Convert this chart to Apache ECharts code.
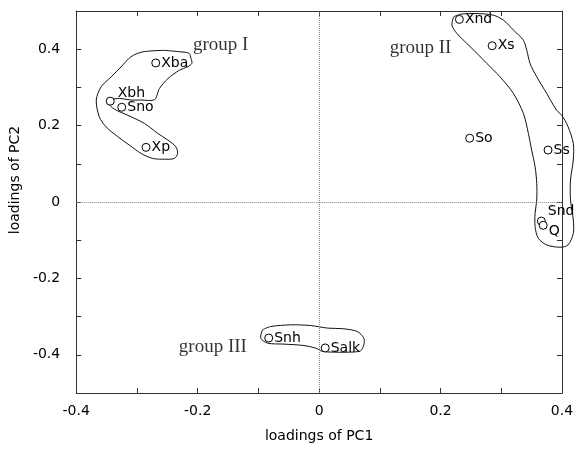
<!DOCTYPE html>
<html>
<head>
<meta charset="utf-8">
<script src="https://cdn.jsdelivr.net/npm/echarts@6/dist/echarts.min.js"></script>
<style>
html,body{margin:0;padding:0;background:#fff;}
#chart{width:581px;height:451px;}
</style>
</head>
<body>
<div id="chart"></div>
<script>
// ---- data ----
const pointNames = ['Xba','Xbh','Sno','Xp','Xnd','Xs','So','Ss','Snd','Q','Snh','Salk'];
const pc1 = [-0.269,-0.344,-0.325,-0.285,0.231,0.285,0.248,0.377,0.366,0.369,-0.083,0.010];
const pc2 = [0.364,0.264,0.248,0.143,0.478,0.409,0.167,0.136,-0.050,-0.061,-0.356,-0.382];

const groupNames = ['group I','group II','group III'];
const groupX = [-0.162, 0.167, -0.175];
const groupY = [0.410, 0.403, -0.379];

const xTicks = [-0.4,-0.3,-0.2,-0.1,0,0.1,0.2,0.3,0.4];
const yTicks = [-0.5,-0.4,-0.3,-0.2,-0.1,0,0.1,0.2,0.3,0.4,0.5];

// hand-drawn outlines (data coordinates)
const outline1 = [[-0.255,0.397],[-0.2275,0.393],[-0.214,0.389],[-0.211,0.376],[-0.2095,0.363],[-0.2165,0.354],[-0.230,0.345],[-0.249,0.323],[-0.263,0.297],[-0.271,0.268],[-0.293,0.267],[-0.310,0.267],[-0.329,0.271],[-0.3425,0.267],[-0.345,0.254],[-0.334,0.2405],[-0.315,0.227],[-0.288,0.206],[-0.266,0.180],[-0.249,0.162],[-0.236,0.1446],[-0.233,0.127],[-0.2385,0.114],[-0.255,0.112],[-0.274,0.114],[-0.293,0.127],[-0.3125,0.149],[-0.3315,0.171],[-0.351,0.197],[-0.362,0.223],[-0.367,0.267],[-0.359,0.3015],[-0.3425,0.3276],[-0.326,0.354],[-0.310,0.380],[-0.2905,0.393],[-0.255,0.397]];
const outline2 = [[0.2214,0.4845],[0.2324,0.4915],[0.260,0.4933],[0.287,0.489],[0.3036,0.476],[0.320,0.450],[0.3364,0.4235],[0.342,0.397],[0.3474,0.3626],[0.3584,0.3276],[0.3749,0.284],[0.391,0.2405],[0.3995,0.2275],[0.410,0.197],[0.4186,0.1535],[0.4186,0.110],[0.414,0.0575],[0.414,0.005],[0.4186,-0.047],[0.4186,-0.082],[0.410,-0.1124],[0.3967,-0.1184],[0.3749,-0.1124],[0.361,-0.095],[0.3557,-0.0646],[0.3557,-0.0295],[0.3584,0.005],[0.3584,0.049],[0.3557,0.0923],[0.350,0.136],[0.3446,0.1796],[0.3364,0.232],[0.320,0.284],[0.298,0.3276],[0.2763,0.3626],[0.260,0.389],[0.2434,0.415],[0.227,0.441],[0.2188,0.463],[0.2214,0.4845]];
const outline3 = [[-0.0933,-0.3346],[-0.0797,-0.326],[-0.0468,-0.3216],[-0.014,-0.3234],[0.0135,-0.330],[0.0407,-0.332],[0.0628,-0.339],[0.0736,-0.3563],[0.0736,-0.374],[0.0682,-0.3895],[0.0517,-0.393],[0.0243,-0.393],[0.0053,-0.391],[-0.0057,-0.3825],[-0.025,-0.3757],[-0.0578,-0.372],[-0.085,-0.3694],[-0.0961,-0.3563],[-0.0933,-0.3346]];

// ---- chart ----
const SANS = 'DejaVu Sans';
const SERIF = 'Liberation Serif';
const chart = echarts.init(document.getElementById('chart'), null, {renderer:'canvas'});

const labelOffsets = {Xbh:[2,-8], Snd:[1,-10], Q:[0,6]};
const pts = pointNames.map((n,i)=>({
  name:n, value:[pc1[i],pc2[i]],
  label: labelOffsets[n] ? {offset: labelOffsets[n]} : undefined
}));

function fmt(v){
  const k = Math.round(v*10);
  if (k % 2 !== 0) return '';
  if (k === 0) return '0';
  return (k/10).toFixed(1);
}

const axisLineStyle = {color:'#333', width:1};
const baseX = {type:'value', min:xTicks[0], max:xTicks[xTicks.length-1], interval:0.1,
  axisLine:{show:true, onZero:false, lineStyle:axisLineStyle},
  axisTick:{show:true, inside:true, length:5, lineStyle:axisLineStyle},
  splitLine:{show:false}};
const baseY = {type:'value', min:yTicks[0], max:yTicks[yTicks.length-1], interval:0.1,
  axisLine:{show:true, onZero:false, lineStyle:axisLineStyle},
  axisTick:{show:true, inside:true, length:5, lineStyle:axisLineStyle},
  splitLine:{show:false}};

chart.setOption({
  animation:false,
  grid:{left:75, right:19, top:11, bottom:58},
  xAxis:[
    Object.assign({}, baseX, {position:'bottom',
      name:'loadings of PC1', nameLocation:'middle', nameGap:36,
      nameTextStyle:{fontFamily:SANS, fontSize:14, color:'#000'},
      axisLabel:{show:true, margin:11, fontFamily:SANS, fontSize:14, color:'#000', formatter:fmt}}),
    Object.assign({}, baseX, {position:'top', axisLabel:{show:false}})
  ],
  yAxis:[
    Object.assign({}, baseY, {position:'left',
      name:'loadings of PC2', nameLocation:'middle', nameGap:50,
      nameTextStyle:{fontFamily:SANS, fontSize:14, color:'#000', padding:[0,0,0,44]},
      axisLabel:{show:true, margin:16, fontFamily:SANS, fontSize:14, color:'#000', formatter:fmt}}),
    Object.assign({}, baseY, {position:'right', axisLabel:{show:false}})
  ],
  series:[
    {
      type:'scatter', data:[], silent:true,
      markLine:{silent:true, symbol:'none', label:{show:false},
        lineStyle:{color:'#888', width:1, type:'dotted'},
        data:[{xAxis:0},{yAxis:0}]}
    },
    {
      type:'scatter', data:pts, symbol:'circle', symbolSize:8, z:5,
      itemStyle:{color:'#fff', borderColor:'#000', borderWidth:1, opacity:1},
      label:{show:true, position:'right', distance:1, formatter:'{b}',
        fontFamily:SANS, fontSize:14, color:'#000'},
      emphasis:{disabled:true}
    },
    {
      type:'scatter', symbolSize:0, silent:true, z:6,
      data:groupNames.map((n,i)=>({name:n, value:[groupX[i],groupY[i]]})),
      label:{show:true, position:'inside', formatter:'{b}',
        fontFamily:SERIF, fontSize:19, color:'#000'},
      emphasis:{disabled:true}
    }
  ]
});

// outlines drawn through the chart's own coordinate conversion (not clipped to grid)
const outlineGraphics = [outline1, outline2, outline3].map(o => ({
  type:'polyline', silent:true, z:3,
  shape:{points:o.map(p => chart.convertToPixel({xAxisIndex:0, yAxisIndex:0}, p)), smooth:0.3},
  style:{stroke:'#111', lineWidth:1, fill:null}
}));
chart.setOption({graphic: outlineGraphics});
</script>
</body>
</html>
